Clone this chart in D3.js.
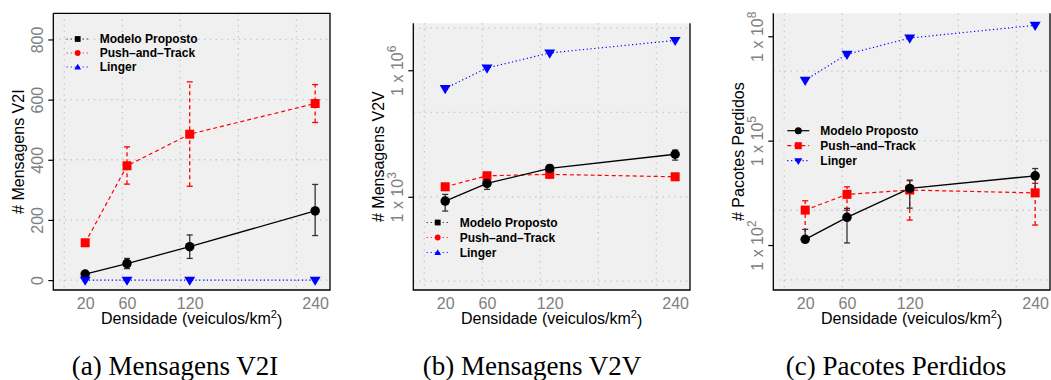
<!DOCTYPE html>
<html>
<head>
<meta charset="utf-8">
<script src="https://cdn.jsdelivr.net/npm/d3@7"></script>
<style>
  body { margin: 0; background: #fff; }
  svg { display: block; }
  text { font-family: "Liberation Sans", Arial, sans-serif; }
  .tick text { fill: #808080; font-size: 16px; }
  .title { font-size: 16px; fill: #000; }
  .leg { font-size: 12px; font-weight: bold; fill: #000; }
  .caption { font-family: "Liberation Serif", "Times New Roman", serif; font-size: 27px; fill: #000; }
</style>
</head>
<body>
<script>
// densidade values and the x grid used by every panel
var densidade = [20, 60, 120, 240];
var gridX = [0, 55.5, 111, 166.5, 222];

// (a) Mensagens V2I
var v2iModelo   = [20, 55, 111, 230];
var v2iModeloLo = [15, 38, 72, 148];
var v2iModeloHi = [25, 72, 150, 318];
var v2iPush     = [124, 380, 485, 587];
var v2iPushLo   = [116, 319, 312, 524];
var v2iPushHi   = [132, 443, 659, 650];
var v2iLinger   = [0, 0, 0, 0];
var v2iTicks    = [0, 200, 400, 600, 800];

// (b) Mensagens V2V
var v2vModelo   = [791, 2076, 4710, 10200];
var v2vModeloLo = [459, 1497, 3905, 7400];
var v2vModeloHi = [1140, 2625, 5630, 12790];
var v2vPush     = [1725, 3150, 3400, 2980];
var v2vPushLo   = [1500, 2800, 2950, 2650];
var v2vPushHi   = [2000, 3500, 3850, 3300];
var v2vLinger   = [370000, 1130000, 2570000, 5100000];
var v2vTicks    = [1e3, 1e6];

// (c) Pacotes Perdidos
var perdModelo   = [146, 624, 4250, 9770];
var perdModeloLo = [146, 115, 1150, 3740];
var perdModeloHi = [282, 1133, 7350, 15800];
var perdPush     = [1010, 2860, 3810, 3150];
var perdPushLo   = [150, 1000, 522, 375];
var perdPushHi   = [1870, 4720, 7098, 5925];
var perdLinger   = [5.46e6, 3.04e7, 8.9e7, 2.07e8];
var perdTicks    = [1e2, 1e5, 1e8];

var logGrid = [1e1, 1e3, 1e5, 1e7];
var seriesNames = ["Modelo Proposto", "Push\u2013and\u2013Track", "Linger"];
var captions = ["(a)  Mensagens V2I", "(b)  Mensagens V2V", "(c)  Pacotes Perdidos"];

var svg = d3.select("body").append("svg")
    .attr("width", 1051)
    .attr("height", 380);

// marker shapes
function drawMarker(g, shape, x, y, s, color) {
  if (shape == "circle") {
    g.append("circle").attr("cx", x).attr("cy", y).attr("r", s / 2).attr("fill", color);
  } else if (shape == "square") {
    g.append("rect").attr("x", x - s / 2).attr("y", y - s / 2)
      .attr("width", s).attr("height", s).attr("fill", color);
  } else if (shape == "down") {
    var w = s * 0.58, h = s;
    g.append("path").attr("fill", color)
      .attr("d", "M" + (x - w) + "," + (y - h * 0.36) + "L" + (x + w) + "," + (y - h * 0.36) +
                 "L" + x + "," + (y + h * 0.6) + "Z");
  } else if (shape == "up") {
    var w2 = s * 0.58;
    g.append("path").attr("fill", color)
      .attr("d", "M" + (x - w2) + "," + (y + s * 0.45) + "L" + (x + w2) + "," + (y + s * 0.45) +
                 "L" + x + "," + (y - s * 0.55) + "Z");
  }
}

function supLabel(sel, exp) {
  sel.text(null);
  sel.append("tspan").text("1 x 10");
  sel.append("tspan").attr("dy", "-0.55em").style("font-size", "12px").text(exp);
}

function createPanel(p) {
  var x = d3.scaleLinear().domain([-10.5, 254.2]).range([p.left, p.right]);
  var y = p.log ? d3.scaleLog().domain(p.ydom).range([290, p.top])
                : d3.scaleLinear().domain(p.ydom).range([290, p.top]);
  var g = svg.append("g");

  // plot background
  g.append("rect")
    .attr("x", p.left).attr("y", p.top)
    .attr("width", p.right - p.left).attr("height", 290 - p.top)
    .attr("fill", "#f0f0f0");

  // grid
  g.selectAll(".gx").data(gridX).enter().append("line")
    .attr("x1", function(d) { return x(d); }).attr("x2", function(d) { return x(d); })
    .attr("y1", p.top).attr("y2", 290)
    .attr("stroke", "#c4c4c4").attr("stroke-width", 1.3).attr("stroke-dasharray", "1.3,4.5");
  g.selectAll(".gy").data(p.grid).enter().append("line")
    .attr("y1", function(d) { return y(d); }).attr("y2", function(d) { return y(d); })
    .attr("x1", p.left).attr("x2", p.right)
    .attr("stroke", "#c4c4c4").attr("stroke-width", 1.3).attr("stroke-dasharray", "1.3,4.5");

  var line = d3.line()
    .x(function(d, i) { return x(densidade[i]); })
    .y(function(d) { return y(d); });

  // lines
  g.append("path").datum(p.linger).attr("d", line).attr("fill", "none")
    .attr("stroke", "#0000ff").attr("stroke-width", 1.2).attr("stroke-dasharray", "1.2,2.6");
  g.append("path").datum(p.push).attr("d", line).attr("fill", "none")
    .attr("stroke", "#ff0000").attr("stroke-width", 1.2).attr("stroke-dasharray", "4,3");
  g.append("path").datum(p.modelo).attr("d", line).attr("fill", "none")
    .attr("stroke", "#000").attr("stroke-width", 1.3);

  // error bars
  function errBars(lo, hi, color, dash) {
    densidade.forEach(function(dv, i) {
      var cx = x(dv), y0 = y(lo[i]), y1 = y(hi[i]);
      g.append("line").attr("x1", cx).attr("x2", cx).attr("y1", y0).attr("y2", y1)
        .attr("stroke", color).attr("stroke-width", 1.3).attr("stroke-dasharray", dash);
      [y0, y1].forEach(function(yy) {
        g.append("line").attr("x1", cx - 3).attr("x2", cx + 3).attr("y1", yy).attr("y2", yy)
          .attr("stroke", color).attr("stroke-width", 1.3);
      });
    });
  }
  errBars(p.pushLo, p.pushHi, "#ff0000", "4,3");
  errBars(p.modeloLo, p.modeloHi, "#333", null);

  // markers
  densidade.forEach(function(dv, i) {
    drawMarker(g, "square", x(dv), y(p.push[i]), 9, "#ff0000");
    drawMarker(g, "circle", x(dv), y(p.modelo[i]), 9.5, "#000");
    drawMarker(g, "down", x(dv), y(p.linger[i]), 9.5, "#0000ff");
  });

  // legend
  var lg = g.append("g");
  if (p.legBg) {
    lg.append("rect").attr("x", p.leg.x - 14).attr("y", p.leg.y - 8)
      .attr("width", 125).attr("height", 2 * p.leg.dy + 16).attr("fill", "#f0f0f0");
  }
  var legColors = ["#000", "#ff0000", "#0000ff"];
  seriesNames.forEach(function(name, i) {
    var ly = p.leg.y + i * p.leg.dy, mx = p.leg.x;
    lg.append("line").attr("x1", mx - 11).attr("x2", mx + 11).attr("y1", ly).attr("y2", ly)
      .attr("stroke", legColors[i]).attr("stroke-width", p.leg.lw)
      .attr("stroke-dasharray", p.leg.dash[i]);
    drawMarker(lg, p.leg.shapes[i], mx, ly, p.leg.size, legColors[i]);
    lg.append("text").attr("class", "leg")
      .attr("x", mx + 22).attr("y", ly).attr("dy", "0.35em")
      .text(name);
  });

  // y axis
  var ya = g.append("g")
    .attr("transform", "translate(" + p.left + ",0)")
    .call(d3.axisLeft(y).tickValues(p.ticks).tickSize(5).tickFormat(function(d) { return p.log ? "" : d; }));
  ya.select(".domain").remove();
  ya.selectAll(".tick line").attr("stroke", "#000").attr("stroke-width", 1.2);
  ya.selectAll(".tick text")
    .attr("transform", "rotate(-90)")
    .attr("x", 0).attr("y", -10.5).attr("dy", 0)
    .attr("text-anchor", "middle")
    .each(function(d) {
      if (p.log) supLabel(d3.select(this), Math.round(Math.log10(d)));
    });

  // x axis
  var xa = g.append("g")
    .attr("transform", "translate(0,290)")
    .call(d3.axisBottom(x).tickValues(densidade).tickSize(0));
  xa.select(".domain").remove();
  xa.selectAll(".tick text").attr("y", 18.5).attr("dy", 0);

  // box
  var box = "M" + p.left + "," + p.top + "V290H" + p.right + "V" + p.top;
  if (p.topLine) box += "H" + p.left;
  g.append("path").attr("d", box).attr("fill", "none")
    .attr("stroke", "#000").attr("stroke-width", 1.3);

  // titles
  var xt = g.append("text").attr("class", "title")
    .attr("x", (p.left + p.right) / 2).attr("y", 323.5)
    .attr("text-anchor", "middle");
  xt.append("tspan").text("Densidade (veiculos/km");
  xt.append("tspan").attr("dy", "-0.5em").style("font-size", "11px").text("2");
  xt.append("tspan").attr("dy", "0.5em").text(")");

  g.append("text").attr("class", "title")
    .attr("transform", "translate(" + (p.left - 29.5) + "," + ((p.top + 290) / 2) + ") rotate(-90)")
    .attr("text-anchor", "middle")
    .text(p.ytitle);

  g.append("text").attr("class", "caption")
    .attr("x", p.capX).attr("y", 375)
    .attr("text-anchor", "middle")
    .text(p.caption);
}

var dottedLeg = ["1,3", "1,3", "1,3"];

createPanel({
  left: 53.3, right: 330, top: 13.3, topLine: true, log: false,
  ydom: [-33, 887], grid: v2iTicks, ticks: v2iTicks,
  modelo: v2iModelo, modeloLo: v2iModeloLo, modeloHi: v2iModeloHi,
  push: v2iPush, pushLo: v2iPushLo, pushHi: v2iPushHi, linger: v2iLinger,
  leg: { x: 77.7, y: 39, dy: 14, lw: 1, dash: dottedLeg, shapes: ["square", "circle", "up"], size: 5.8 },
  ytitle: "# Mensagens V2I", caption: captions[0], capX: 175
});

createPanel({
  left: 413.3, right: 690, top: 23.3, topLine: false, log: true,
  ydom: [Math.pow(10, 0.79), Math.pow(10, 7.113)], grid: logGrid, ticks: v2vTicks,
  modelo: v2vModelo, modeloLo: v2vModeloLo, modeloHi: v2vModeloHi,
  push: v2vPush, pushLo: v2vPushLo, pushHi: v2vPushHi, linger: v2vLinger,
  leg: { x: 437.7, y: 222.5, dy: 15, lw: 1, dash: dottedLeg, shapes: ["square", "circle", "up"], size: 5.8 },
  ytitle: "# Mensagens V2V", caption: captions[1], capX: 532
});

createPanel({
  left: 773.3, right: 1050, top: 13.3, topLine: false, log: true,
  ydom: [Math.pow(10, 0.708), Math.pow(10, 8.66)], grid: logGrid, ticks: perdTicks,
  modelo: perdModelo, modeloLo: perdModeloLo, modeloHi: perdModeloHi,
  push: perdPush, pushLo: perdPushLo, pushHi: perdPushHi, linger: perdLinger,
  legBg: true,
  leg: { x: 798.3, y: 130.7, dy: 15, lw: 1.2, dash: [null, "4,3", "1.2,2.6"], shapes: ["circle", "square", "down"], size: 7 },
  ytitle: "# Pacotes Perdidos", caption: captions[2], capX: 896
});
</script>
</body>
</html>
